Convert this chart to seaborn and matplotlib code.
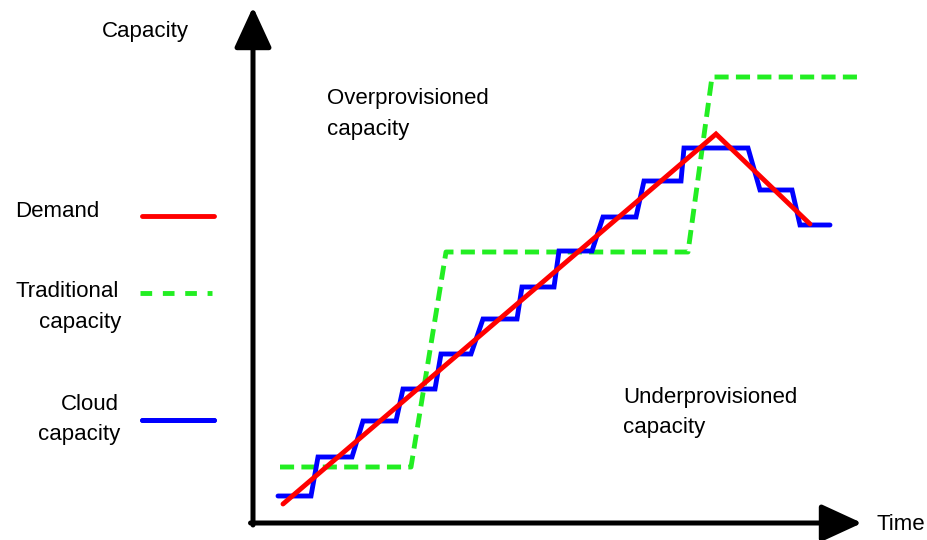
import matplotlib.pyplot as plt
import pandas as pd
import seaborn as sns
from matplotlib.lines import Line2D

sns.set_style('white')
plt.rcParams['font.family'] = ['Liberation Sans', 'DejaVu Sans']
plt.rcParams['lines.solid_joinstyle'] = 'miter'
plt.rcParams['text.color'] = 'black'

# Data (time / capacity in arbitrary units)
demand_time = [283, 716, 810]
demand_cap = [36, 406, 316]

traditional_time = [280, 411, 446, 688, 712, 860]
traditional_cap = [73, 73, 288, 288, 463, 463]

cloud_time = [278, 311, 318, 352, 363, 396, 403, 435, 441, 471, 483, 517, 522,
              554, 559, 592, 603, 636, 644, 681, 684, 748, 760, 792, 800, 830]
cloud_cap = [44, 44, 83, 83, 119, 119, 151, 151, 186, 186, 221, 221, 253,
             253, 289, 289, 323, 323, 359, 359, 392, 392, 350, 350, 315, 315]

series_order = ["Traditional", "Cloud", "Demand"]
colors = {"Demand": "#ff0000", "Traditional": "#22ee22", "Cloud": "#0000ff"}
dashes = {"Demand": "", "Traditional": (2.9, 1.5), "Cloud": ""}

df = pd.concat([
    pd.DataFrame({"time": traditional_time, "capacity": traditional_cap, "series": "Traditional"}),
    pd.DataFrame({"time": cloud_time, "capacity": cloud_cap, "series": "Cloud"}),
    pd.DataFrame({"time": demand_time, "capacity": demand_cap, "series": "Demand"}),
], ignore_index=True)

fig = plt.figure(figsize=(9.28, 5.40), dpi=100)
ax = fig.add_axes([0, 0, 1, 1])

sns.lineplot(data=df, x="time", y="capacity", hue="series", style="series",
             hue_order=series_order, style_order=series_order,
             palette=colors, dashes=dashes, sort=False, estimator=None,
             lw=3.5, legend=False, ax=ax)

ax.set_xlim(0, 928)
ax.set_ylim(0, 540)
ax.axis('off')

# axes with arrow heads
arrow = dict(arrowstyle='-|>,head_length=2.5,head_width=1.15', lw=3.6,
             color='black', shrinkA=0, shrinkB=0, mutation_scale=10)
ax.annotate('', xy=(253, 533), xytext=(253, 15), arrowprops=arrow)
ax.annotate('', xy=(862, 17), xytext=(250.5, 17), arrowprops=arrow)

fs = 16
ax.text(102, 503, "Capacity", fontsize=fs, va='baseline')
ax.text(877, 10, "Time", fontsize=fs, va='baseline')
ax.text(327, 436, "Overprovisioned", fontsize=fs, va='baseline')
ax.text(327, 405, "capacity", fontsize=fs, va='baseline')
ax.text(623, 137, "Underprovisioned", fontsize=fs, va='baseline')
ax.text(623, 107, "capacity", fontsize=fs, va='baseline')

# legend labels
ax.text(15, 323, "Demand", fontsize=fs, va='baseline')
ax.text(119, 243, "Traditional", fontsize=fs, va='baseline', ha='right')
ax.text(121, 212, "capacity", fontsize=fs, va='baseline', ha='right')
ax.text(119, 130, "Cloud", fontsize=fs, va='baseline', ha='right')
ax.text(120, 100, "capacity", fontsize=fs, va='baseline', ha='right')

# legend keys (anchor positions only)
keys = [("Demand", (142, 323)), ("Traditional", (140, 246)), ("Cloud", (142, 119))]
for name, (kx, ky) in keys:
    h = Line2D([], [], color=colors[name], lw=3.5)
    if dashes[name]:
        h.set_dashes((2.4, 2.2))
    leg = ax.legend(handles=[h], labels=[''], loc='center left',
                    bbox_to_anchor=(kx / 928, ky / 540), frameon=False,
                    borderpad=0, borderaxespad=0, handlelength=72 / 10 / 1.389,
                    handletextpad=0, fontsize=10)
    ax.add_artist(leg)

fig.savefig("out.png", dpi=100)
